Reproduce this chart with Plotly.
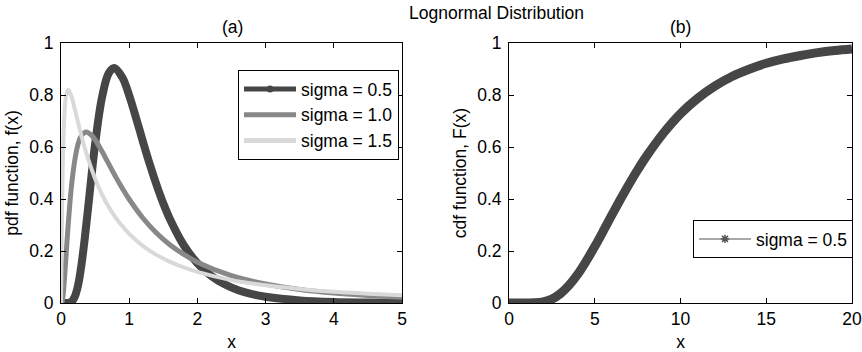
import plotly.graph_objects as go
from plotly.subplots import make_subplots

# Lognormal pdf, mu = 0, three shape parameters
x_s05 = [0, 0.05, 0.1, 0.15, 0.2, 0.25, 0.3, 0.35, 0.4, 0.45, 0.5, 0.6, 0.7, 0.78, 0.9, 1.0,
         1.1, 1.2, 1.3, 1.4, 1.5, 1.6, 1.8, 2.0, 2.2, 2.4, 2.6, 2.8, 3.0, 3.5, 4.0, 4.5, 5.0]
pdf_s05 = [0, 0, 0.0002, 0.004, 0.023, 0.068, 0.147, 0.252, 0.372, 0.496, 0.611, 0.789, 0.884,
           0.904, 0.867, 0.798, 0.712, 0.622, 0.535, 0.455, 0.383, 0.321, 0.222, 0.153, 0.105,
           0.072, 0.049, 0.034, 0.024, 0.010, 0.004, 0.002, 0.001]

x_s10 = [0, 0.01, 0.02, 0.03, 0.05, 0.075, 0.1, 0.15, 0.2, 0.25, 0.3, 0.37, 0.45, 0.5, 0.6, 0.7,
         0.8, 0.9, 1.0, 1.2, 1.4, 1.6, 1.8, 2.0, 2.5, 3.0, 3.5, 4.0, 4.5, 5.0]
pdf_s10 = [0, 0.001, 0.010, 0.028, 0.090, 0.186, 0.282, 0.440, 0.546, 0.611, 0.644, 0.658, 0.645,
           0.628, 0.584, 0.535, 0.486, 0.441, 0.399, 0.327, 0.269, 0.223, 0.187, 0.157, 0.105,
           0.073, 0.052, 0.038, 0.029, 0.022]

x_s15 = [0, 0.005, 0.01, 0.02, 0.03, 0.05, 0.075, 0.105, 0.15, 0.2, 0.25, 0.3, 0.4, 0.5, 0.6, 0.7,
         0.8, 1.0, 1.2, 1.4, 1.6, 1.8, 2.0, 2.5, 3.0, 3.5, 4.0, 4.5, 5.0]
pdf_s15 = [0, 0.104, 0.239, 0.443, 0.577, 0.724, 0.799, 0.820, 0.797, 0.748, 0.694, 0.642, 0.552,
           0.478, 0.418, 0.369, 0.329, 0.266, 0.220, 0.185, 0.158, 0.137, 0.120, 0.088, 0.068,
           0.054, 0.043, 0.036, 0.030]

# Lognormal cdf, sigma = 0.5
x_cdf = [0, 1, 1.5, 2, 2.5, 3, 3.5, 4, 4.5, 5, 5.5, 6, 6.5, 7, 7.5, 8, 9, 10, 11, 12, 13, 14,
         15, 16, 17, 18, 19, 20]
cdf_s05 = [0, 0.0000, 0.0007, 0.0045, 0.015, 0.036, 0.068, 0.110, 0.161, 0.217, 0.277, 0.339,
           0.399, 0.457, 0.512, 0.563, 0.653, 0.728, 0.787, 0.834, 0.871, 0.899, 0.922, 0.939,
           0.952, 0.963, 0.971, 0.977]

labels = ["sigma = 0.5", "sigma = 1.0", "sigma = 1.5"]
DARK, MID, LIGHT = "#464646", "#888888", "#d9d9d9"
FONT = dict(family="Liberation Sans, Arial, sans-serif", size=17.5, color="black")

fig = make_subplots(rows=1, cols=2, horizontal_spacing=0.12)

# panel (a)
fig.add_trace(go.Scatter(x=x_s05, y=pdf_s05, mode="lines", line=dict(color=DARK, width=8, shape="spline"),
                         showlegend=False), 1, 1)
fig.add_trace(go.Scatter(x=x_s10, y=pdf_s10, mode="lines", line=dict(color=MID, width=5, shape="spline"),
                         showlegend=False), 1, 1)
fig.add_trace(go.Scatter(x=x_s15, y=pdf_s15, mode="lines", line=dict(color=LIGHT, width=4, shape="spline"),
                         showlegend=False), 1, 1)
# legend entries for panel (a)
fig.add_trace(go.Scatter(x=[None], y=[None], mode="lines+markers", name=labels[0],
                         line=dict(color=DARK, width=5), marker=dict(color=DARK, size=7),
                         legend="legend"), 1, 1)
fig.add_trace(go.Scatter(x=[None], y=[None], mode="lines", name=labels[1],
                         line=dict(color=MID, width=5), legend="legend"), 1, 1)
fig.add_trace(go.Scatter(x=[None], y=[None], mode="lines", name=labels[2],
                         line=dict(color=LIGHT, width=5), legend="legend"), 1, 1)

# panel (b)
fig.add_trace(go.Scatter(x=x_cdf, y=cdf_s05, mode="lines", line=dict(color=DARK, width=9, shape="spline"),
                         showlegend=False), 1, 2)
fig.add_trace(go.Scatter(x=[None], y=[None], mode="lines+markers", name=labels[0],
                         line=dict(color="#8c8c8c", width=1.5),
                         marker=dict(symbol="asterisk-open", color="#555555", size=7,
                                     line=dict(color="#555555", width=1.5)),
                         legend="legend2"), 1, 2)

axis_common = dict(showline=True, linecolor="black", linewidth=1, mirror="allticks",
                   ticks="inside", ticklen=5, tickcolor="black", showgrid=False,
                   zeroline=False, tickfont=FONT, title_font=FONT, automargin=False)

fig.update_xaxes(**axis_common)
fig.update_yaxes(**axis_common)
fig.update_xaxes(range=[0, 5], dtick=1, title_text="x", title_standoff=10, ticklabelstandoff=0,
                 domain=[61 / 862, 402 / 862], row=1, col=1)
fig.update_xaxes(range=[0, 20], dtick=5, title_text="x", title_standoff=10, ticklabelstandoff=0,
                 domain=[509 / 862, 852 / 862], row=1, col=2)
fig.update_yaxes(range=[0, 1], dtick=0.2, title_text="pdf function, f(x)", title_standoff=6,
                 ticklabelstandoff=3, domain=[49 / 352, 309 / 352], row=1, col=1)
fig.update_yaxes(range=[0, 1], dtick=0.2, title_text="cdf function, F(x)", title_standoff=6,
                 ticklabelstandoff=3, domain=[49 / 352, 309 / 352], row=1, col=2)

legend_common = dict(bgcolor="white", bordercolor="black", borderwidth=1, font=FONT,
                     xanchor="right", yanchor="top", itemwidth=52, tracegroupgap=0)

fig.update_layout(
    width=862, height=352,
    margin=dict(l=0, r=0, t=0, b=0),
    paper_bgcolor="white", plot_bgcolor="white",
    font=FONT,
    legend=dict(x=399 / 862, y=1 - 70 / 352, **legend_common),
    legend2=dict(x=853 / 862, y=1 - 220 / 352, **legend_common),
    annotations=[
        dict(text="Lognormal Distribution", x=497 / 862, y=1 - 13 / 352, xref="paper", yref="paper",
             showarrow=False, font=FONT, xanchor="center", yanchor="middle"),
        dict(text="(a)", x=232 / 862, y=1 - 27 / 352, xref="paper", yref="paper",
             showarrow=False, font=FONT, xanchor="center", yanchor="middle"),
        dict(text="(b)", x=680 / 862, y=1 - 27 / 352, xref="paper", yref="paper",
             showarrow=False, font=FONT, xanchor="center", yanchor="middle"),
    ],
)

fig.write_html("out.html")
